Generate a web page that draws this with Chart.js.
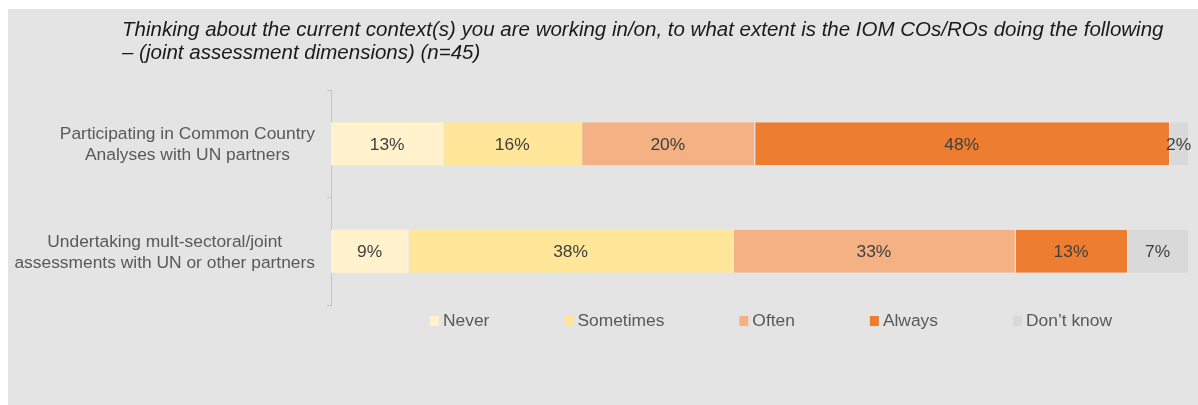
<!DOCTYPE html>
<html>
<head>
<meta charset="utf-8">
<script src="https://cdn.jsdelivr.net/npm/chart.js@4"></script>
<style>
  body { margin: 0; background: #fff; }
  .panel {
    position: absolute; left: 8px; top: 9px; width: 1190px; height: 396px;
    background: #e4e4e4;
  }
  .title {
    position: absolute; left: 114px; top: 8px; width: 1076px;
    font-family: "Liberation Sans", Arial, sans-serif; font-style: italic;
    font-size: 20.5px; line-height: 23px; color: #1a1a1a; white-space: nowrap;
  }
  canvas { position: absolute; left: 0; top: 0; }
</style>
</head>
<body>
<div class="panel">
  <canvas id="jc" width="1190" height="396"></canvas>
  <div class="title">Thinking about the current context(s) you are working in/on, to what extent is the IOM COs/ROs doing the following<br>– (joint assessment dimensions) (n=45)</div>
</div>
<script>
let questions = [
   ["Participating in Common Country", "Analyses with UN partners"],
   ["Undertaking mult-sectoral/joint", "assessments with UN or other partners"]
];
let answers = ["Never", "Sometimes", "Often", "Always", "Don\u2019t know"];
let neverArr = [13.1, 9.0];
let sometimesArr = [16.1, 37.9];
let oftenArr = [20.2, 32.9];
let alwaysArr = [48.4, 13.1];
let dontKnowArr = [2.2, 7.1];
let colors = ["#fff2cc", "#ffe699", "#f4b183", "#ed7d31", "#d9d9d9"];

const font = '"Liberation Sans", Arial, sans-serif';

// question labels, right-aligned as blocks with centred lines
const yLabels = {
   id: 'yLabels',
   afterDraw(chart) {
      const ctx = chart.ctx, y = chart.scales.y;
      ctx.save();
      ctx.font = '17.4px ' + font;
      ctx.fillStyle = '#595959';
      ctx.textAlign = 'center';
      ctx.textBaseline = 'middle';
      chart.data.labels.forEach(function(lines, i){
         const cy = y.getPixelForTick(i);
         const w = Math.max(...lines.map(l => ctx.measureText(l).width));
         const cx = y.right - 16 - w / 2;
         lines.forEach(function(l, j){
            ctx.fillText(l, cx, cy + 1 + (j - (lines.length - 1) / 2) * 21);
         });
      });
      ctx.restore();
   }
};

// percentage labels in the middle of each segment
const pctLabels = {
   id: 'pctLabels',
   afterDatasetsDraw(chart) {
      const ctx = chart.ctx;
      ctx.save();
      ctx.font = '17.4px ' + font;
      ctx.fillStyle = '#404040';
      ctx.textAlign = 'center';
      ctx.textBaseline = 'middle';
      chart.data.datasets.forEach(function(ds, i){
         chart.getDatasetMeta(i).data.forEach(function(bar, j){
            ctx.fillText(Math.round(ds.data[j]) + '%', (bar.x + bar.base) / 2, bar.y + 1);
         });
      });
      ctx.restore();
   }
};

// legend under the plot, evenly spaced items
const bottomLegend = {
   id: 'bottomLegend',
   afterDraw(chart) {
      const ctx = chart.ctx, area = chart.chartArea;
      ctx.save();
      ctx.font = '17.4px ' + font;
      ctx.textBaseline = 'middle';
      let x = area.left + 99;
      const y = area.bottom + 16;
      chart.data.datasets.forEach(function(ds){
         ctx.fillStyle = ds.backgroundColor;
         ctx.fillRect(x, y - 5, 9, 10);
         ctx.fillStyle = '#595959';
         ctx.fillText(ds.label, x + 13, y);
         x += 13 + ctx.measureText(ds.label).width + 75;
      });
      ctx.restore();
   }
};

const ctx = document.getElementById('jc').getContext('2d');
const jcChart = new Chart(ctx, {
   type: 'bar',
   data: {
      labels: questions,
      datasets: [neverArr, sometimesArr, oftenArr, alwaysArr, dontKnowArr].map(function(d, i){
         return {
            label: answers[i],
            data: d,
            backgroundColor: colors[i],
            borderColor: 'rgba(255,255,255,0.35)',
            borderWidth: { left: i > 0 ? 1 : 0, right: 0, top: 0, bottom: 0 },
            borderSkipped: false,
            barPercentage: 0.4,
            categoryPercentage: 1
         };
      })
   },
   options: {
      indexAxis: 'y',
      responsive: false,
      animation: false,
      layout: { padding: { top: 81, right: 10, bottom: 100, left: 0 } },
      scales: {
         x: { stacked: true, min: 0, max: 100, display: false },
         y: {
            stacked: true,
            afterFit: function(scale){ scale.width = 323; },
            ticks: { display: false },
            grid: { drawOnChartArea: false, tickLength: 4, color: '#c4c4c4' },
            border: { display: true, color: '#c4c4c4' }
         }
      },
      plugins: {
         tooltip: { enabled: false },
         legend: { display: false }
      }
   },
   plugins: [yLabels, pctLabels, bottomLegend]
});
</script>
</body>
</html>
